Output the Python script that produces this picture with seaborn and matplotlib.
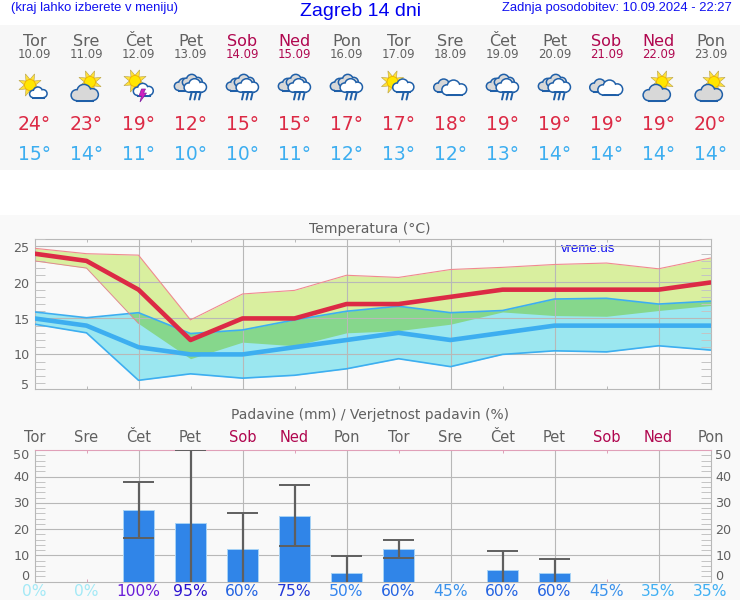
import numpy as np
import pandas as pd
import seaborn as sns
import matplotlib
matplotlib.use('Agg')
import matplotlib.pyplot as plt
from matplotlib.patches import Circle, Polygon, Rectangle
from matplotlib.ticker import MultipleLocator

days = ['Tor', 'Sre', 'Čet', 'Pet', 'Sob', 'Ned', 'Pon', 'Tor', 'Sre', 'Čet', 'Pet', 'Sob', 'Ned', 'Pon']
dates = ['10.09', '11.09', '12.09', '13.09', '14.09', '15.09', '16.09', '17.09', '18.09', '19.09', '20.09', '21.09', '22.09', '23.09']
icons = ['sun_cloud', 'cloud_sun', 'storm', 'rain', 'rain', 'rain', 'rain', 'sun_rain', 'clouds', 'rain', 'rain', 'clouds', 'cloud_sun', 'cloud_sun']

t_max = [24, 23, 19, 12, 15, 15, 17, 17, 18, 19, 19, 19, 19, 20]
t_min = [15, 14, 11, 10, 10, 11, 12, 13, 12, 13, 14, 14, 14, 14]
t_max_hi = [24.75, 24.0, 23.8, 14.8, 18.4, 18.9, 21.0, 20.7, 21.8, 22.1, 22.5, 22.7, 21.9, 23.4]
t_max_lo = [23.0, 22.0, 14.3, 9.4, 11.7, 11.2, 13.0, 13.3, 14.2, 15.9, 15.4, 15.3, 16.1, 16.8]
t_min_hi = [15.9, 15.1, 15.8, 12.9, 13.4, 14.8, 16.0, 16.7, 15.8, 16.1, 17.7, 17.8, 17.0, 17.4]
t_min_lo = [14.2, 13.0, 6.4, 7.3, 6.7, 7.1, 8.0, 9.4, 8.3, 10.0, 10.5, 10.35, 11.2, 10.6]

rain = [0, 0, 27.1, 22.4, 12.3, 25.1, 3.4, 12.4, 0, 4.4, 3.3, 0, 0, 0]
rain_hi = [0, 0, 37.8, 50, 26.1, 36.8, 9.9, 15.7, 0, 11.8, 8.7, 0, 0, 0]
rain_lo = [0, 0, 16.5, 0, 0, 13.6, 0, 9.1, 0, 0, 0, 0, 0, 0]
rain_prob = [0, 0, 100, 95, 60, 75, 50, 60, 45, 60, 60, 45, 35, 35]
prob_colors = {0: '#a3e9f6', 35: '#41b0f3', 45: '#3b92ec', 50: '#3384ee', 60: '#2464e2', 75: '#2238d8', 95: '#2a12d0', 100: '#6a1fd8'}

GRAY = '#606060'
WEEKEND = '#b0074f'
GRID = '#b8b8b8'
PANEL = '#f9f9f9'
RED = '#dc2a45'
BLUE = '#3daef0'
HEAD = 'Liberation Sans'
LINE = '#1f5fa8'
CLOUD_GRAY = '#d8d8d8'


def day_color(d):
    return WEEKEND if d in ('Sob', 'Ned') else GRAY


def px_axes(fig, left, top, right, bottom):
    return fig.add_axes([left / 740, 1 - bottom / 600, (right - left) / 740, (bottom - top) / 600])


def sun(ax, x, y, r=5.5):
    c = np.array([x, y])
    for a in np.arange(0, 2 * np.pi, np.pi / 4) + np.pi / 8:
        d = np.array([np.cos(a), np.sin(a)])
        n = np.array([-d[1], d[0]])
        ax.add_patch(Polygon([c + d * (r + 6.5), c + d * (r - 1) + n * 2.4, c + d * (r - 1) - n * 2.4], fc='#ffe23a', ec='#b8a040', lw=0.4))
    ax.add_patch(Circle((x, y), r, fc='#ffe600', ec='#f0b000', lw=0.6))


def cloud(ax, x, y, s=1.0, fill='#ffffff'):
    parts = [(-8, 3, 4.5), (-1, -0.5, 6), (7, 2.5, 5)]
    for dx, dy, r in parts:
        ax.add_patch(Circle((x + dx * s, y + dy * s), r * s, fc=LINE, ec=LINE, lw=2.2))
    ax.add_patch(Rectangle((x - 8 * s, y + 3 * s), 15 * s, 4.5 * s, fc=LINE, ec=LINE, lw=2.2))
    for dx, dy, r in parts:
        ax.add_patch(Circle((x + dx * s, y + dy * s), r * s, fc=fill, ec='none'))
    ax.add_patch(Rectangle((x - 8 * s, y + 3 * s), 15 * s, 4.5 * s, fc=fill, ec='none'))


def drops(ax, x, y, n=3):
    for i in range(n):
        ax.plot([x + i * 4.5 + 1, x + i * 4.5 - 0.5], [y, y + 6.5], color=LINE, lw=1.4)


def weather_icon(ax, kind, x, y):
    if kind == 'sun_cloud':
        sun(ax, x - 4.5, y - 1)
        cloud(ax, x + 4, y + 6, 0.65)
    elif kind == 'cloud_sun':
        sun(ax, x + 3.5, y - 4)
        cloud(ax, x - 1.5, y + 6, 1.05, CLOUD_GRAY)
    elif kind == 'storm':
        sun(ax, x - 3.5, y - 5)
        cloud(ax, x + 5, y + 3, 0.75)
        ax.add_patch(Polygon([(x + 3, y + 3), (x + 7, y + 3), (x + 5, y + 7), (x + 8, y + 7), (x + 1.5, y + 16), (x + 3, y + 10), (x + 0.5, y + 10)], fc='#d020c0', ec='#8020a0', lw=0.5))
    elif kind == 'rain':
        cloud(ax, x - 6, y - 2, 0.75, CLOUD_GRAY)
        cloud(ax, x + 2, y - 6, 0.75, CLOUD_GRAY)
        cloud(ax, x + 5, y - 1, 0.85)
        drops(ax, x, y + 7)
    elif kind == 'sun_rain':
        sun(ax, x - 6, y - 4)
        cloud(ax, x + 5, y - 1, 0.8)
        drops(ax, x + 4, y + 7, 2)
    elif kind == 'clouds':
        cloud(ax, x - 6, y - 1, 0.8, CLOUD_GRAY)
        cloud(ax, x + 4, y + 1, 0.95)


sns.set_theme(style='white')
plt.rcParams['font.family'] = ['DejaVu Sans']
fig = plt.figure(figsize=(7.4, 6), dpi=100, facecolor='white')

# page background, header and forecast strip, in pixel coordinates
page = fig.add_axes([0, 0, 1, 1], zorder=0)
page.set_xlim(0, 740)
page.set_ylim(600, 0)
page.axis('off')
page.add_patch(Rectangle((0, 25), 740, 145, fc='#f7f7f7', ec='none'))
page.add_patch(Rectangle((0, 215), 740, 385, fc=PANEL, ec='none'))

page.text(11, 8, '(kraj lahko izberete v meniju)', family=HEAD, fontsize=9.4, color='#1010f0', va='center')
page.text(361, 11, 'Zagreb 14 dni', family=HEAD, fontsize=14, color='#0000f0', va='center', ha='center')
page.text(732, 8, 'Zadnja posodobitev: 10.09.2024 - 22:27', family=HEAD, fontsize=9.4, color='#1010f0', va='center', ha='right')
page.text(370, 229, 'Temperatura (°C)', fontsize=10.1, color=GRAY, va='center', ha='center')
page.text(370, 415, 'Padavine (mm) / Verjetnost padavin (%)', fontsize=10, color=GRAY, va='center', ha='center')
page.text(561, 249, 'vreme.us', family=HEAD, fontsize=9.5, color='#1010f0', va='center', zorder=5)

for i, d in enumerate(days):
    x = 34.5 + 52 * i
    page.text(x, 42, d, fontsize=11.5, color=day_color(d), ha='center', va='center')
    page.text(x, 55, dates[i], fontsize=8.4, color=day_color(d), ha='center', va='center')
    weather_icon(page, icons[i], x, 86)
    page.text(x, 125, f'{t_max[i]}°', fontsize=13.5, color=RED, ha='center', va='center')
    page.text(x, 155, f'{t_min[i]}°', fontsize=13.5, color=BLUE, ha='center', va='center')
    page.text(x, 437, d, fontsize=10.5, color=day_color(d), ha='center', va='center')
    page.text(x, 591, f'{rain_prob[i]}%', fontsize=11.2, color=prob_colors[rain_prob[i]], ha='center', va='center')

pos = np.arange(len(days))


def style_axes(ax, ylim, minor, spine_top, ticks):
    ax.set_facecolor('none')
    ax.set_xlim(0, 13)
    ax.set_ylim(*ylim)
    ax.set_xlabel('')
    ax.set_ylabel('')
    ax.set_xticks(np.arange(2, 13, 2))
    ax.set_xticks(np.arange(1, 13, 2), minor=True)
    ax.set_yticks(ticks)
    ax.yaxis.set_minor_locator(MultipleLocator(minor))
    ax.grid(True, which='major', color=GRID, lw=0.8)
    ax.tick_params(which='major', length=0, labelleft=False, labelbottom=False)
    ax.tick_params(which='minor', axis='y', direction='in', left=True, right=True, length=7.5, width=0.7, color='#c4c4c4')
    ax.tick_params(which='minor', axis='x', direction='in', top=True, bottom=True, length=2.5, width=0.7, color=spine_top)
    for sp in ax.spines.values():
        sp.set_color(GRID)
        sp.set_linewidth(0.8)
    ax.spines['top'].set_color(spine_top)


# temperature panel
ax = px_axes(fig, 34.5, 239.3, 710.5, 389.3)
ax.set_zorder(1)
ax.fill_between(pos, t_max_lo, t_max_hi, color='#d9ef9f', lw=0, zorder=1)
ax.fill_between(pos, t_min_lo, t_min_hi, color='#9be7f0', lw=0, zorder=1.1)
ax.fill_between(pos, np.maximum(t_max_lo, t_min_lo), np.minimum(t_max_hi, t_min_hi), where=np.array(t_max_lo) <= np.array(t_min_hi),
                interpolate=True, color='#86d78c', lw=0, zorder=1.2)
sns.lineplot(x=pos, y=t_max_hi, color='#f08a90', lw=0.8, ax=ax, zorder=3)
sns.lineplot(x=pos, y=t_min_hi, color=BLUE, lw=1.2, ax=ax, zorder=3)
sns.lineplot(x=pos, y=t_min_lo, color=BLUE, lw=1.2, ax=ax, zorder=3)
sns.lineplot(x=pos[:3], y=t_max_lo[:3], color='#e08a90', lw=0.7, ax=ax, zorder=3)
sns.lineplot(x=pos, y=t_min, color=BLUE, lw=3.3, ax=ax, zorder=4)
sns.lineplot(x=pos, y=t_max, color=RED, lw=3.3, ax=ax, zorder=5)
temp_labels = [(5, '5', 5), (10, '10', -1), (15, '15', -2), (20, '20', -2), (25, '25', -2)]
style_axes(ax, (5.15, 26), 1, GRID, [10, 15, 20, 25])
ax.set_axisbelow(False)
for line in ax.get_xgridlines() + ax.get_ygridlines():
    line.set_zorder(2)
for v, s, off in temp_labels:
    ax.annotate(s, xy=(0, v), xycoords=('axes fraction', 'data'), xytext=(-5, off), textcoords='offset pixels',
                ha='right', va='center', fontsize=9.2, color=GRAY, annotation_clip=False)

# precipitation panel
ax2 = px_axes(fig, 34.5, 449.7, 710.5, 581.7)
ax2.set_zorder(1)
rain_df = pd.DataFrame({'pos': pos, 'rain': rain})
sns.barplot(data=rain_df, x='pos', y='rain', native_scale=True, width=0.61, color='#3085e8', saturation=1,
            edgecolor='#a6d2f6', linewidth=0.7, ax=ax2, zorder=3)
wet = np.array(rain_hi) > 0
ax2.vlines(pos[wet], np.array(rain_lo)[wet], np.array(rain_hi)[wet], color='#5f5f5f', lw=1.6, zorder=4)
ax2.hlines(np.array(rain_hi)[wet], pos[wet] - 0.305, pos[wet] + 0.305, color='#5f5f5f', lw=1.4, zorder=4)
cap_lo = np.array(rain_lo) > 0
ax2.hlines(np.array(rain_lo)[cap_lo], pos[cap_lo] - 0.305, pos[cap_lo] + 0.305, color='#5f5f5f', lw=1.4, zorder=4)
rain_labels = [(0, '0', 5), (10, '10', -1), (20, '20', -1), (30, '30', -1), (40, '40', -1), (50, '50', -5)]
style_axes(ax2, (0, 50.2), 2, '#e0a0b8', [10, 20, 30, 40])
ax2.set_axisbelow(True)
for v, s, off in rain_labels:
    ax2.annotate(s, xy=(0, v), xycoords=('axes fraction', 'data'), xytext=(-5, off), textcoords='offset pixels',
                 ha='right', va='center', fontsize=9.2, color=GRAY, annotation_clip=False)
    ax2.annotate(s, xy=(1, v), xycoords=('axes fraction', 'data'), xytext=(5, off), textcoords='offset pixels',
                 ha='left', va='center', fontsize=9.2, color=GRAY, annotation_clip=False)

fig.savefig('out.png', dpi=100)
